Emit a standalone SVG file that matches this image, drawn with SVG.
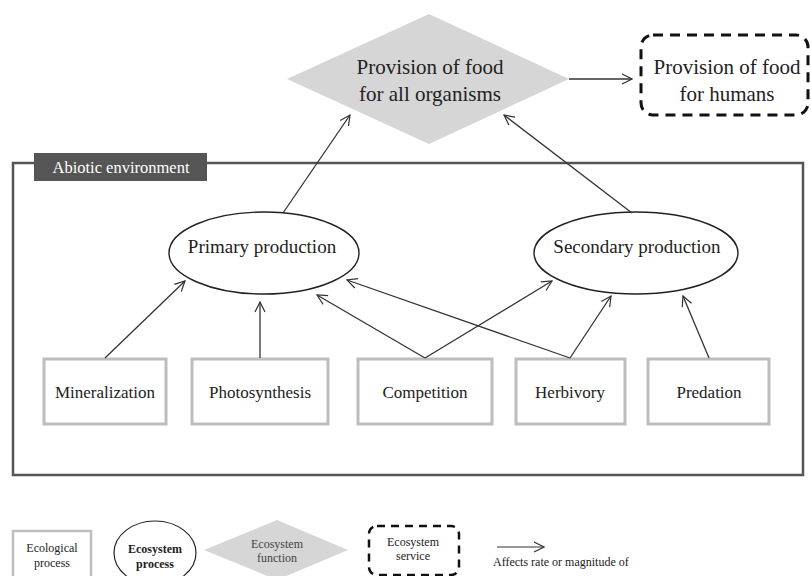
<svg xmlns="http://www.w3.org/2000/svg" width="811" height="576" viewBox="0 0 811 576">
<style>
text{font-family:"Liberation Serif","Times New Roman",serif;fill:#222;text-anchor:middle}
.proc{fill:#fff;stroke:#bdbdbd;stroke-width:3}
.ell{fill:#fff;stroke:#222;stroke-width:1.4}
.dia{fill:#d6d6d6;stroke:none}
.svc{fill:#fff;stroke:#111;stroke-width:3;stroke-dasharray:10,7}
.conn line{stroke:#333;stroke-width:1.3;marker-end:url(#ah)}
.t20{font-size:21px}
.t18{font-size:19px}
.t16{font-size:17px}
.t12{font-size:12px}
</style>
<defs>
<marker id="ah" viewBox="0 0 12 12" refX="11" refY="6" markerWidth="12" markerHeight="12" markerUnits="userSpaceOnUse" orient="auto">
<path d="M1,1 L11,6 L1,11" fill="none" stroke="#333" stroke-width="1.2"/>
</marker>
</defs>
<rect width="811" height="576" fill="#fff"/>

<g id="abiotic">
<rect x="13" y="163" width="790" height="312" fill="none" stroke="#555" stroke-width="2.5"/>
<rect x="34" y="153" width="173" height="28" fill="#555"/>
<text x="121" y="173" style="font-size:16.5px;fill:#fff">Abiotic environment</text>
</g>

<g id="food-all">
<polygon class="dia" points="287,79 429,14 569,79 429,144"/>
<text class="t20" x="430" y="74">Provision of food</text>
<text class="t20" x="430" y="101">for all organisms</text>
</g>

<g id="food-humans">
<rect class="svc" x="641" y="35" width="167" height="80" rx="12"/>
<text class="t20" x="727" y="74">Provision of food</text>
<text class="t20" x="727" y="101">for humans</text>
</g>

<g id="primary">
<ellipse class="ell" cx="264" cy="253" rx="95" ry="41"/>
<text class="t18" x="262" y="253">Primary production</text>
</g>
<g id="secondary">
<ellipse class="ell" cx="636" cy="253" rx="102" ry="41"/>
<text class="t18" x="637" y="253">Secondary production</text>
</g>

<g id="mineralization"><rect class="proc" x="44" y="359" width="122" height="65"/><text class="t16" x="105" y="398">Mineralization</text></g>
<g id="photosynthesis"><rect class="proc" x="192" y="359" width="136" height="65"/><text class="t16" x="260" y="398">Photosynthesis</text></g>
<g id="competition"><rect class="proc" x="358" y="359" width="134" height="65"/><text class="t16" x="425" y="398">Competition</text></g>
<g id="herbivory"><rect class="proc" x="516" y="359" width="109" height="65"/><text class="t16" x="570" y="398">Herbivory</text></g>
<g id="predation"><rect class="proc" x="648" y="359" width="121" height="65"/><text class="t16" x="709" y="398">Predation</text></g>

<g class="conn" id="connectors">
<line x1="569" y1="79" x2="632" y2="79"/>
<line x1="283" y1="213" x2="350" y2="115"/>
<line x1="632" y1="213" x2="504" y2="115"/>
<line x1="105" y1="358" x2="185" y2="281"/>
<line x1="260" y1="358" x2="260" y2="302"/>
<line x1="425" y1="358" x2="317" y2="295"/>
<line x1="570" y1="358" x2="347" y2="280"/>
<line x1="425" y1="358" x2="552" y2="281"/>
<line x1="570" y1="358" x2="611" y2="296"/>
<line x1="709" y1="358" x2="683" y2="296"/>
</g>

<g id="legend">
<g id="leg-process"><rect x="13" y="531" width="78" height="60" fill="#fff" stroke="#bdbdbd" stroke-width="2.5"/>
<text class="t12" x="52" y="552">Ecological</text><text class="t12" x="52" y="567">process</text></g>
<g id="leg-ecoproc"><ellipse cx="155" cy="553" rx="41" ry="32" fill="#fff" stroke="#222" stroke-width="1.2"/>
<text class="t12" x="155" y="553" font-weight="bold">Ecosystem</text><text class="t12" x="155" y="568" font-weight="bold">process</text></g>
<g id="leg-function"><polygon class="dia" points="204,550 277,520 348,550 277,580"/>
<text class="t12" x="277" y="548" style="fill:#444">Ecosystem</text><text class="t12" x="277" y="562" style="fill:#444">function</text></g>
<g id="leg-service"><rect x="369" y="526" width="90" height="49" rx="8" fill="#fff" stroke="#111" stroke-width="2.5" stroke-dasharray="8,6"/>
<text class="t12" x="413" y="546">Ecosystem</text><text class="t12" x="413" y="560">service</text></g>
<g id="leg-arrow"><line x1="497" y1="547" x2="544" y2="547" stroke="#333" stroke-width="1.2" marker-end="url(#ah)"/>
<text class="t12" x="493" y="566" style="text-anchor:start">Affects rate or magnitude of</text></g>
</g>
</svg>
